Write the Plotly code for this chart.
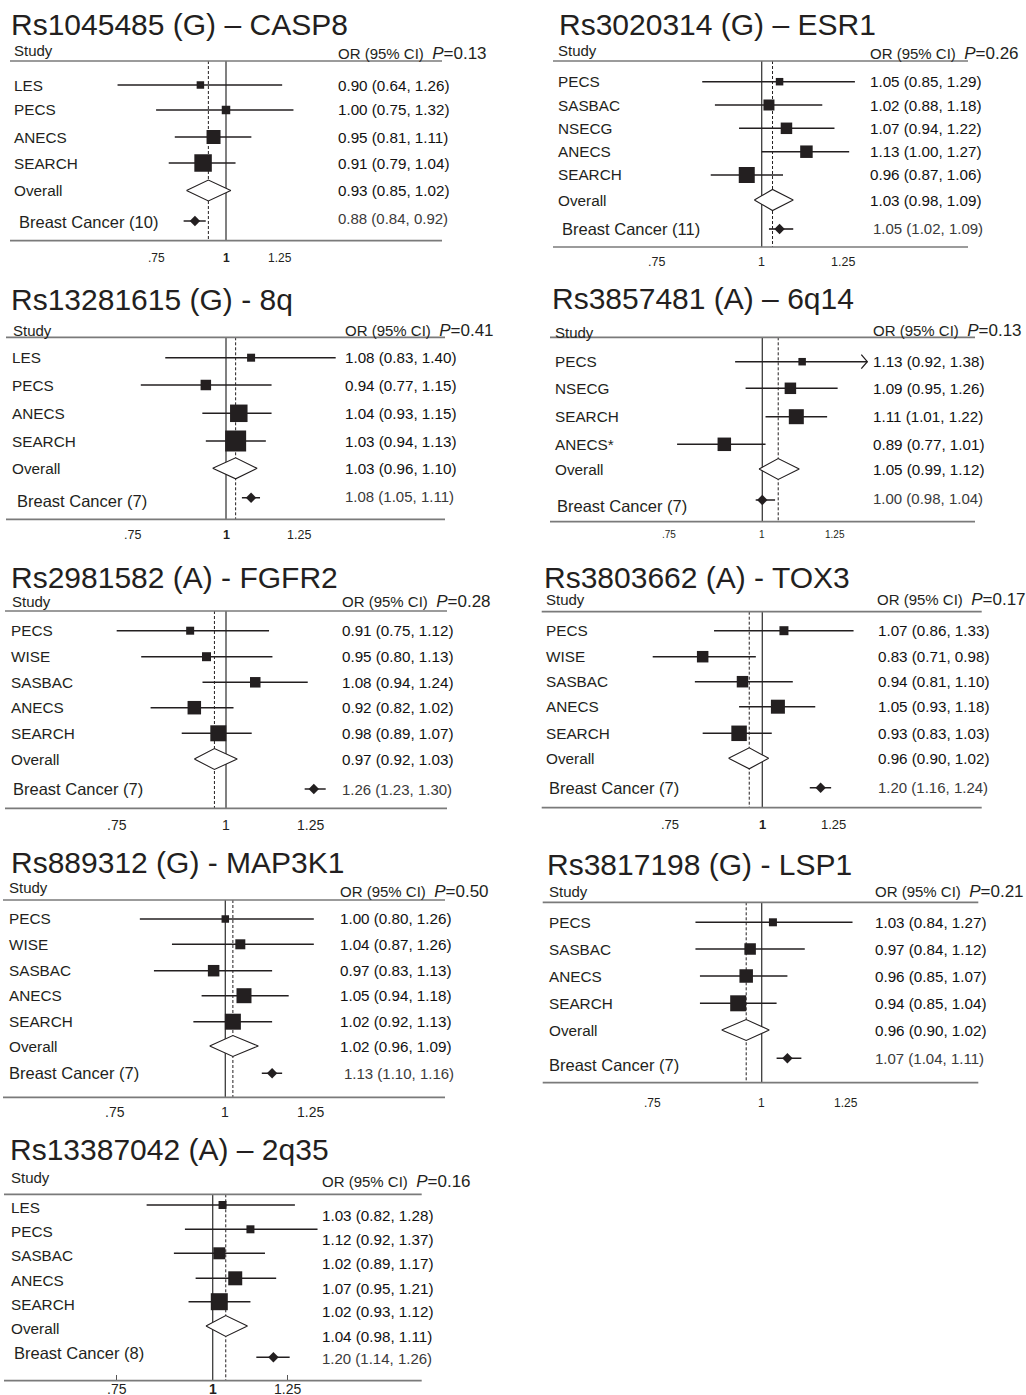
import math
import plotly.graph_objects as go

W, H = 1026, 1395

# ---------------- data ----------------
casp8_studies = ["LES", "PECS", "ANECS", "SEARCH"]
casp8_or = [0.90, 1.00, 0.95, 0.91]
casp8_lo = [0.64, 0.75, 0.81, 0.79]
casp8_hi = [1.26, 1.32, 1.11, 1.04]
casp8_weight = [7.5, 8.5, 14, 17.5]
casp8_overall = [0.93, 0.85, 1.02]
casp8_bc = [0.88, 0.84, 0.92]
casp8_bc_n = 10
casp8_p = "0.13"

esr1_studies = ["PECS", "SASBAC", "NSECG", "ANECS", "SEARCH"]
esr1_or = [1.05, 1.02, 1.07, 1.13, 0.96]
esr1_lo = [0.85, 0.88, 0.94, 1.00, 0.87]
esr1_hi = [1.29, 1.18, 1.22, 1.27, 1.06]
esr1_weight = [7.5, 11, 11.5, 12.5, 16]
esr1_overall = [1.03, 0.98, 1.09]
esr1_bc = [1.05, 1.02, 1.09]
esr1_bc_n = 11
esr1_p = "0.26"

q8_studies = ["LES", "PECS", "ANECS", "SEARCH"]
q8_or = [1.08, 0.94, 1.04, 1.03]
q8_lo = [0.83, 0.77, 0.93, 0.94]
q8_hi = [1.40, 1.15, 1.15, 1.13]
q8_weight = [8, 10.5, 17.5, 21]
q8_overall = [1.03, 0.96, 1.10]
q8_bc = [1.08, 1.05, 1.11]
q8_bc_n = 7
q8_p = "0.41"

q6_studies = ["PECS", "NSECG", "SEARCH", "ANECS*"]
q6_or = [1.13, 1.09, 1.11, 0.89]
q6_lo = [0.92, 0.95, 1.01, 0.77]
q6_hi = [1.38, 1.26, 1.22, 1.01]
q6_weight = [7.5, 11.5, 15, 13.5]
q6_overall = [1.05, 0.99, 1.12]
q6_bc = [1.00, 0.98, 1.04]
q6_bc_n = 7
q6_p = "0.13"

fgfr2_studies = ["PECS", "WISE", "SASBAC", "ANECS", "SEARCH"]
fgfr2_or = [0.91, 0.95, 1.08, 0.92, 0.98]
fgfr2_lo = [0.75, 0.80, 0.94, 0.82, 0.89]
fgfr2_hi = [1.12, 1.13, 1.24, 1.02, 1.07]
fgfr2_weight = [8, 9, 10.5, 13.5, 16]
fgfr2_overall = [0.97, 0.92, 1.03]
fgfr2_bc = [1.26, 1.23, 1.30]
fgfr2_bc_n = 7
fgfr2_p = "0.28"

tox3_studies = ["PECS", "WISE", "SASBAC", "ANECS", "SEARCH"]
tox3_or = [1.07, 0.83, 0.94, 1.05, 0.93]
tox3_lo = [0.86, 0.71, 0.81, 0.93, 0.83]
tox3_hi = [1.33, 0.98, 1.10, 1.18, 1.03]
tox3_weight = [9, 11.5, 11.5, 14, 15.5]
tox3_overall = [0.96, 0.90, 1.02]
tox3_bc = [1.20, 1.16, 1.24]
tox3_bc_n = 7
tox3_p = "0.17"

map3k1_studies = ["PECS", "WISE", "SASBAC", "ANECS", "SEARCH"]
map3k1_or = [1.00, 1.04, 0.97, 1.05, 1.02]
map3k1_lo = [0.80, 0.87, 0.83, 0.94, 0.92]
map3k1_hi = [1.26, 1.26, 1.13, 1.18, 1.13]
map3k1_weight = [7.5, 10, 11.5, 15, 16]
map3k1_overall = [1.02, 0.96, 1.09]
map3k1_bc = [1.13, 1.10, 1.16]
map3k1_bc_n = 7
map3k1_p = "0.50"

lsp1_studies = ["PECS", "SASBAC", "ANECS", "SEARCH"]
lsp1_or = [1.03, 0.97, 0.96, 0.94]
lsp1_lo = [0.84, 0.84, 0.85, 0.85]
lsp1_hi = [1.27, 1.12, 1.07, 1.04]
lsp1_weight = [8, 11.5, 13.5, 16]
lsp1_overall = [0.96, 0.90, 1.02]
lsp1_bc = [1.07, 1.04, 1.11]
lsp1_bc_n = 7
lsp1_p = "0.21"

q2_studies = ["LES", "PECS", "SASBAC", "ANECS", "SEARCH"]
q2_or = [1.03, 1.12, 1.02, 1.07, 1.02]
q2_lo = [0.82, 0.92, 0.89, 0.95, 0.93]
q2_hi = [1.28, 1.37, 1.17, 1.21, 1.12]
q2_weight = [8, 8, 12, 14, 17]
q2_overall = [1.04, 0.98, 1.11]
q2_bc = [1.20, 1.14, 1.26]
q2_bc_n = 8
q2_p = "0.16"

tick_vals = [0.75, 1, 1.25]
tick_text = [".75", "1", "1.25"]

# ---------------- layout (pixel geometry of each panel) ----------------
cfgs = [
    dict(title="Rs1045485 (G) \u2013 CASP8", title_xy=(9, 25), study_xy=(12, 50), orhdr_xy=(336, 53),
         top=61, bottom=240.7, ax=(10, 442), one=226, s=243,
         rows=[85, 110, 137, 163, 190.5], bc=221, lab_x=12, bc_lab=(17, 222), or_x=336, or_dy=0,
         bc_or=(336, 218), tick_y=258, tickfont=12, bold1=True, ticks=False, arrow=[]),
    dict(title="Rs3020314 (G) \u2013 ESR1", title_xy=(557, 24), study_xy=(556, 50), orhdr_xy=(868, 53),
         top=61, bottom=247, ax=(553, 968), one=761.7, s=366,
         rows=[81.7, 105, 128.3, 151.7, 175, 200], bc=229, lab_x=556, bc_lab=(560, 229), or_x=868, or_dy=0,
         bc_or=(871, 228), tick_y=262, tickfont=12.5, bold1=False, ticks=False, arrow=[]),
    dict(title="Rs13281615 (G) - 8q", title_xy=(9, 299), study_xy=(11, 330), orhdr_xy=(343, 330),
         top=337.3, bottom=519.3, ax=(6, 445), one=226, s=326,
         rows=[357.7, 385, 413.3, 441, 468.3], bc=497.7, lab_x=10, bc_lab=(14.5, 501.5), or_x=343, or_dy=0,
         bc_or=(343, 496.7), tick_y=535, tickfont=12.5, bold1=True, ticks=False, arrow=[]),
    dict(title="Rs3857481 (A) \u2013 6q14", title_xy=(550, 298), study_xy=(553, 332), orhdr_xy=(871, 330),
         top=337.3, bottom=521.7, ax=(550, 975), one=762.3, s=326,
         rows=[361.7, 388.3, 416.7, 444.3, 469], bc=500, lab_x=553, bc_lab=(555, 506), or_x=871, or_dy=0,
         bc_or=(871, 498.3), tick_y=535, tickfont=10, bold1=False, ticks=False, arrow=[0]),
    dict(title="Rs2981582 (A) - FGFR2", title_xy=(9, 577), study_xy=(10, 601.5), orhdr_xy=(340, 601.5),
         top=611, bottom=808.3, ax=(5, 447), one=226, s=380,
         rows=[630.7, 656.7, 682.3, 707.7, 733.3, 759], bc=789, lab_x=9, bc_lab=(10.5, 789), or_x=340, or_dy=0,
         bc_or=(340, 789), tick_y=825, tickfont=14, bold1=False, ticks=False, arrow=[]),
    dict(title="Rs3803662 (A) - TOX3", title_xy=(542, 577), study_xy=(544, 599), orhdr_xy=(875, 599),
         top=611.7, bottom=807.7, ax=(541.7, 981.7), one=762.3, s=320,
         rows=[630.7, 656.7, 681.7, 706.7, 733.3, 758.3], bc=787.7, lab_x=544, bc_lab=(547, 787.7), or_x=875.5,
         or_dy=0, bc_or=(875.5, 787), tick_y=824.3, tickfont=13, bold1=True, ticks=False, arrow=[]),
    dict(title="Rs889312 (G) - MAP3K1", title_xy=(9, 862), study_xy=(7, 887.7), orhdr_xy=(338, 891.7),
         top=900, bottom=1097.3, ax=(3, 445), one=225.3, s=383,
         rows=[919, 944.3, 970.7, 995.7, 1021.7, 1046], bc=1073.3, lab_x=6.5, bc_lab=(6.5, 1073.3), or_x=338,
         or_dy=0, bc_or=(341.5, 1073), tick_y=1112, tickfont=14, bold1=False, ticks=False, arrow=[]),
    dict(title="Rs3817198 (G) - LSP1", title_xy=(545, 864), study_xy=(547, 891.7), orhdr_xy=(873, 891.7),
         top=902.3, bottom=1082.7, ax=(542.7, 978.3), one=761.7, s=380,
         rows=[922.3, 949, 976, 1003.3, 1030], bc=1058.3, lab_x=547, bc_lab=(547, 1065), or_x=873, or_dy=0,
         bc_or=(873, 1058.3), tick_y=1103.3, tickfont=12, bold1=False, ticks=False, arrow=[]),
    dict(title="Rs13387042 (A) \u2013 2q35", title_xy=(8, 1149.5), study_xy=(8.5, 1177.7), orhdr_xy=(320, 1181.7),
         top=1194.3, bottom=1380.7, ax=(4, 421.7), one=212.7, s=333,
         rows=[1205, 1229.3, 1253.3, 1278.3, 1301.7, 1326], bc=1357.3, lab_x=8.5, bc_lab=(11.5, 1353.3), or_x=320,
         or_dy=10, lab_dy=2.5, bc_or=(320, 1358.3), tick_y=1388.5, tickfont=14, bold1=True, ticks=True, arrow=[]),
]

panels = [
    (casp8_studies, casp8_or, casp8_lo, casp8_hi, casp8_weight, casp8_overall, casp8_bc, casp8_bc_n, casp8_p),
    (esr1_studies, esr1_or, esr1_lo, esr1_hi, esr1_weight, esr1_overall, esr1_bc, esr1_bc_n, esr1_p),
    (q8_studies, q8_or, q8_lo, q8_hi, q8_weight, q8_overall, q8_bc, q8_bc_n, q8_p),
    (q6_studies, q6_or, q6_lo, q6_hi, q6_weight, q6_overall, q6_bc, q6_bc_n, q6_p),
    (fgfr2_studies, fgfr2_or, fgfr2_lo, fgfr2_hi, fgfr2_weight, fgfr2_overall, fgfr2_bc, fgfr2_bc_n, fgfr2_p),
    (tox3_studies, tox3_or, tox3_lo, tox3_hi, tox3_weight, tox3_overall, tox3_bc, tox3_bc_n, tox3_p),
    (map3k1_studies, map3k1_or, map3k1_lo, map3k1_hi, map3k1_weight, map3k1_overall, map3k1_bc, map3k1_bc_n, map3k1_p),
    (lsp1_studies, lsp1_or, lsp1_lo, lsp1_hi, lsp1_weight, lsp1_overall, lsp1_bc, lsp1_bc_n, lsp1_p),
    (q2_studies, q2_or, q2_lo, q2_hi, q2_weight, q2_overall, q2_bc, q2_bc_n, q2_p),
]

FONT = "Liberation Sans, Arial, Helvetica, sans-serif"
TXT = "#231f20"
LN10 = math.log(10)

fig = go.Figure()
annotations = []
shapes = []
layout_axes = {}


def px(xp):
    return xp / W


def py(yp):
    return 1 - yp / H


def fmt(v, lo, hi):
    return f"{v:.2f} ({lo:.2f}, {hi:.2f})"


for i, (data, c) in enumerate(zip(panels, cfgs), start=1):
    studies, ors, los, his, wts, ov, bc, bc_n, pval = data
    xa = "x" if i == 1 else f"x{i}"
    ya = "y" if i == 1 else f"y{i}"
    xname = "xaxis" if i == 1 else f"xaxis{i}"
    yname = "yaxis" if i == 1 else f"yaxis{i}"
    l, r = c["ax"]
    rng = [(l - c["one"]) / c["s"] / LN10, (r - c["one"]) / c["s"] / LN10]
    layout_axes[xname] = dict(
        type="log", domain=[px(l), px(r)], range=rng, anchor=ya,
        showgrid=False, zeroline=False, showline=False, showticklabels=False,
        tickvals=[0.75, 1.25] if c["ticks"] else [], ticks="inside" if c["ticks"] else "",
        ticklen=6, tickwidth=1, tickcolor="#555", fixedrange=True)
    layout_axes[yname] = dict(
        domain=[py(c["bottom"]), py(c["top"])], range=[c["bottom"], c["top"]],
        visible=False, anchor=xa, fixedrange=True)

    k = len(studies)
    rows = c["rows"][:k]
    ov_y = c["rows"][k]
    top, bot = c["top"], c["bottom"]

    # frame lines (header rule and axis rule)
    for yy in (0, 1):
        shapes.append(dict(type="line", xref=f"{xa} domain", yref=f"{ya} domain",
                           x0=0, x1=1, y0=yy, y1=yy, line=dict(color="#7a7a7a", width=1.7)))

    # null line at OR = 1
    fig.add_trace(go.Scatter(x=[1, 1], y=[top, bot], mode="lines", xaxis=xa, yaxis=ya,
                             line=dict(color="#3c3c3c", width=1.3), hoverinfo="skip"))
    # dashed line at pooled OR
    fig.add_trace(go.Scatter(x=[ov[0], ov[0]], y=[top, bot], mode="lines", xaxis=xa, yaxis=ya,
                             line=dict(color=TXT, width=1, dash="3px,2px"), hoverinfo="skip"))

    # confidence interval lines
    cx, cy = [], []
    for lo_, hi_, ry in zip(los, his, rows):
        cx += [lo_, hi_, None]
        cy += [ry, ry, None]
    fig.add_trace(go.Scatter(x=cx, y=cy, mode="lines", xaxis=xa, yaxis=ya,
                             line=dict(color=TXT, width=1.6), hoverinfo="skip"))
    # arrows for truncated CI
    for j in c["arrow"]:
        d = 6 / c["s"]
        fig.add_trace(go.Scatter(x=[his[j] * math.exp(-d), his[j], his[j] * math.exp(-d)],
                                 y=[rows[j] - 7, rows[j], rows[j] + 7], mode="lines",
                                 xaxis=xa, yaxis=ya, line=dict(color=TXT, width=1.3), hoverinfo="skip"))
    # weighted squares
    fig.add_trace(go.Scatter(x=ors, y=rows, mode="markers", xaxis=xa, yaxis=ya, cliponaxis=False,
                             marker=dict(symbol="square", size=wts, color=TXT, opacity=1,
                                         line=dict(width=0)),
                             hoverinfo="skip"))
    # pooled diamond
    hh = 10.5
    fig.add_trace(go.Scatter(x=[ov[1], ov[0], ov[2], ov[0], ov[1]],
                             y=[ov_y, ov_y - hh, ov_y, ov_y + hh, ov_y],
                             mode="lines", fill="toself", fillcolor="white", xaxis=xa, yaxis=ya,
                             line=dict(color=TXT, width=1.1), hoverinfo="skip"))
    # breast cancer estimate
    fig.add_trace(go.Scatter(x=[bc[1], bc[2]], y=[c["bc"], c["bc"]], mode="lines", xaxis=xa, yaxis=ya,
                             line=dict(color=TXT, width=1.6), hoverinfo="skip"))
    fig.add_trace(go.Scatter(x=[bc[0]], y=[c["bc"]], mode="markers", xaxis=xa, yaxis=ya, cliponaxis=False,
                             marker=dict(symbol="diamond", size=8, color=TXT, opacity=1),
                             hoverinfo="skip"))

    # ---- text ----
    def ann(x, y, text, size, color=TXT, xanchor="left", xref="paper"):
        annotations.append(dict(x=x, y=y, xref=xref, yref="paper", text=text, showarrow=False,
                                xanchor=xanchor, yanchor="middle",
                                font=dict(family=FONT, size=size, color=color)))

    ann(px(c["title_xy"][0]), py(c["title_xy"][1]), c["title"], 30)
    ann(px(c["study_xy"][0]), py(c["study_xy"][1]), "Study", 15)
    ann(px(c["orhdr_xy"][0]), py(c["orhdr_xy"][1]),
        f"OR (95% CI)\u00a0\u00a0<span style='font-size:17px'><i>P</i>=" + pval + "</span>", 15)
    lab_dy = c.get("lab_dy", 0)
    for name, ry, v, lo_, hi_ in zip(studies + ["Overall"], rows + [ov_y],
                                     ors + [ov[0]], los + [ov[1]], his + [ov[2]]):
        ann(px(c["lab_x"]), py(ry + lab_dy), name, 15.3)
        ann(px(c["or_x"]), py(ry + c["or_dy"]), fmt(v, lo_, hi_), 15.2, color="#111111")
    ann(px(c["bc_lab"][0]), py(c["bc_lab"][1]), f"Breast Cancer ({bc_n})", 16.5)
    ann(px(c["bc_or"][0]), py(c["bc_or"][1]), fmt(*bc), 15, color="#3a3a3a")

    # tick labels placed through the x scale
    for tv, tt in zip(tick_vals, tick_text):
        if tv == 1 and c["bold1"]:
            tt = "<b>1</b>"
        ann(math.log10(tv), py(c["tick_y"]), tt, c["tickfont"], xanchor="center", xref=xa)

fig.update_layout(
    width=W, height=H, margin=dict(l=0, r=0, t=0, b=0),
    paper_bgcolor="white", plot_bgcolor="rgba(0,0,0,0)",
    showlegend=False, annotations=annotations, shapes=shapes,
    font=dict(family=FONT, color=TXT),
    **layout_axes,
)

fig.write_html("out.html", config={"displayModeBar": False},
               post_script="document.body.style.margin='0px';")
